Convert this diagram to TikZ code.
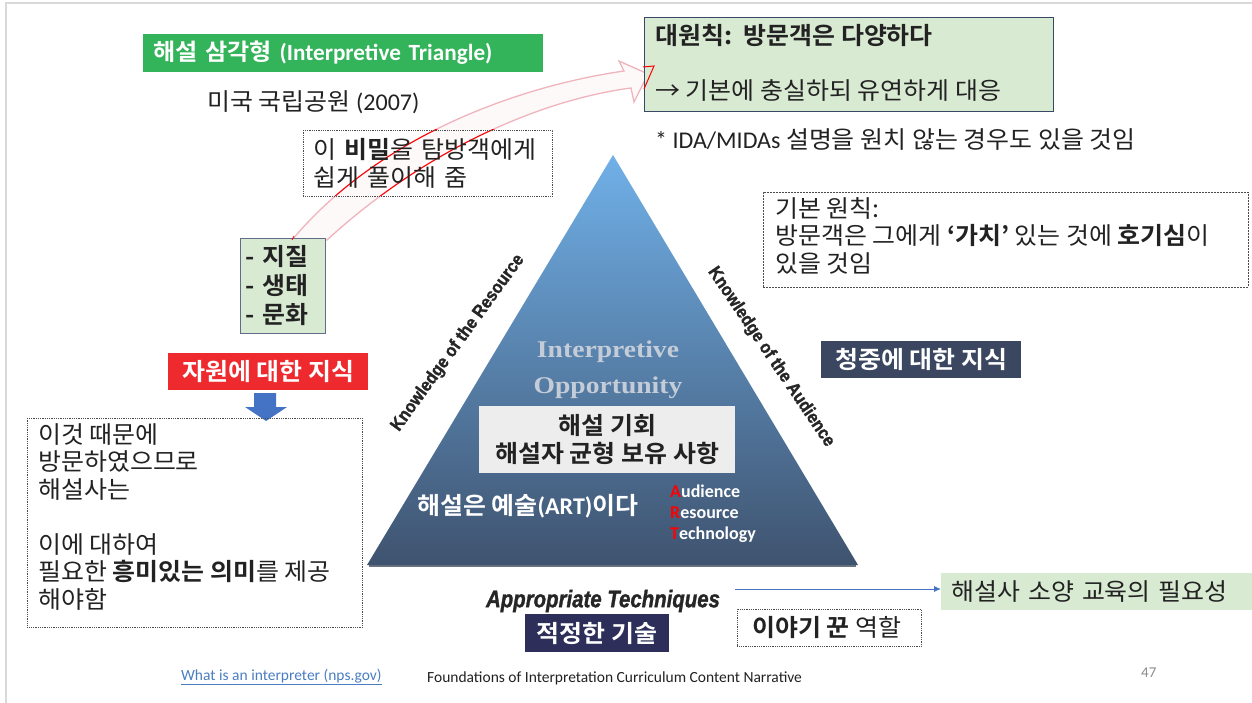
\documentclass[tikz,border=0pt]{standalone}
\usepackage{fontspec}
\setmainfont{Noto Sans CJK KR}[BoldFont={Noto Sans CJK KR Bold}, FakeStretch=1.04]
\newfontfamily\lat{Carlito}
\newfontfamily\arlheavy{Liberation Sans}[FakeBold=1.5]
\newfontfamily\srf{Liberation Serif}
\usetikzlibrary{calc,arrows.meta}
\definecolor{titlegreen}{HTML}{33B35A}
\definecolor{palegreen}{HTML}{D9EAD3}
\definecolor{boxedge}{HTML}{3A4868}
\definecolor{redbox}{HTML}{EE2A2F}
\definecolor{arrowblue}{HTML}{4472C4}
\definecolor{slate}{HTML}{3B4760}
\definecolor{navy}{HTML}{2D2E5A}
\definecolor{triTop}{HTML}{70B0E8}
\definecolor{triMid}{HTML}{5A86BC}
\definecolor{triBot}{HTML}{3F536F}
\definecolor{txt}{HTML}{222222}
\definecolor{linkblue}{HTML}{4A7EC2}
\definecolor{pinkline}{HTML}{F0B4BC}
\definecolor{framegray}{HTML}{D9D9D9}
\definecolor{ghost}{HTML}{C4CCD8}
\newcommand\fsz[2]{\fontsize{#1}{#2}\selectfont}
\begin{document}
\begin{tikzpicture}[x=1pt,y=-1pt,
  every node/.style={inner sep=0pt, text=txt},
  body/.style={font=\fsz{24}{27.5}, align=left},
  fillbox/.style={minimum height=37, font=\fsz{24}{27.5}\bfseries, text=white},
  dotbox/.style={draw=black!70, densely dotted, line width=0.8},
  dashbox/.style={draw=black!70, dashed, dash pattern=on 2pt off 1pt, line width=0.8},
  sidelabel/.style={font=\arlheavy\bfseries\fsz{18}{20}, text=black!85},
  artword/.style={font=\lat\bfseries\fsz{18}{20}, text=white, anchor=west}]
\useasboundingbox (0,0) rectangle (1252,703);
\fill[white] (0,0) rectangle (1252,703);
\draw[framegray, line width=1.5] (6,703) -- (6,3) -- (1252,3);

% ---------- triangle ----------
\shade[top color=triTop, middle color=triMid, bottom color=triBot]
  (613,155) -- (858,565) -- (367,565) -- cycle;
\draw[triBot!70!black, line width=2.5, opacity=.7] (369,566) -- (856,566);
\node[font=\srf\bfseries\fsz{24}{26}, text=ghost] (io1) at (608,352) {\scalebox{1.15}[1]{Interpretive}};
\node[font=\srf\bfseries\fsz{24}{26}, text=ghost] (io2) at (608,388) {\scalebox{1.15}[1]{Opportunity}};

% side labels
\node[sidelabel, rotate=54] (kres) at (458,343) {\scalebox{0.9}[1]{Knowledge of the Resource}};
\node[sidelabel, rotate=-56] (kaud) at (771,357) {\scalebox{0.9}[1]{Knowledge of the Audience}};
\node[font=\arlheavy\bfseries\itshape\fsz{24}{26}, text=black!85] (tech) at (603,601) {\scalebox{0.85}[1]{Appropriate Techniques}};

% inside triangle
\node[fill=black!7, minimum width=256, minimum height=67, anchor=north west,
      font=\fsz{24}{28}\bfseries, align=center] (opp) at (479,406)
      {해설 기회\\해설자 균형 보유 사항};
\node[anchor=west, font=\fsz{24}{26}\bfseries, text=white] (art) at (417,506)
      {해설은 예술{\lat(ART)}이다};
\node[artword] (aud) at (670,491) {\textcolor{red}{A}udience};
\node[artword] (res) at (670,513) {\textcolor{red}{R}esource};
\node[artword] (tec) at (670,535) {\textcolor{red}{T}echnology};

% ---------- left column ----------
\node[fill=titlegreen, minimum width=400, minimum height=38, anchor=west,
      text width=380, inner xsep=10, align=left, text=white,
      font=\fsz{23.2}{25}\bfseries] (title) at (143,53)
      {해설 삼각형 {\lat (Interpretive Triangle)}};
\node[anchor=west, font=\fsz{24}{26}] (nps) at (207,102) {미국 국립공원 {\lat (2007)}};

% curved block arrow
\path[fill=pinkline, fill opacity=.08, draw=pinkline, line width=1.3]
  (292,240) .. controls (380,135) and (520,86) .. (624,71)
  -- (619,61) -- (648,74) -- (634,102) -- (631,88)
  .. controls (540,100) and (425,150) .. (327,240) -- cycle;
\begin{scope}
\clip (303,130) rectangle (552,196);
\draw[red, line width=1]
  (292,240) .. controls (380,135) and (520,86) .. (624,71);
\draw[red, line width=1]
  (631,88) .. controls (540,100) and (425,150) .. (327,240);
\end{scope}

\node[dotbox, minimum width=249, minimum height=66,
      anchor=north west, text width=229, inner xsep=10, body] (secret) at (303,130)
      {이 \textbf{비밀}을 탐방객에게\\쉽게 풀이해 줌};

\node[fill=palegreen, draw=boxedge!80, line width=1, minimum width=85, minimum height=95,
      anchor=north west, text width=75, inner xsep=5, align=left,
      font=\fsz{24}{29}\bfseries] (geo) at (240,238)
      {- 지질\\- 생태\\- 문화};
\draw[red, line width=0.8] (292,240) -- (294,236);

\node[fill=redbox, fillbox, minimum width=200, anchor=north west] (kresbox) at (168,353) {자원에 대한 지식};
\fill[arrowblue] (254,393) -- (276,393) -- (276,407) -- (287,407) -- (266,421)
  -- (245,407) -- (254,407) -- cycle;
\node[dotbox, minimum width=335, minimum height=209, anchor=north west] (why) at (27,418) {};
\node[anchor=north west, body] (whytext) at (38,423)
  {이것 때문에\\방문하였으므로\\해설사는\\[27.5pt]이에 대하여\\필요한 \textbf{흥미있는 의미}를 제공\\해야함};

% ---------- right column ----------
\node[fill=palegreen, draw=boxedge, line width=1.2, minimum width=409, minimum height=94,
      anchor=north west] (principle) at (644,17) {};
\draw[red, line width=1] (643,67) -- (654,66) -- (644,89);
\node[anchor=west, font=\fsz{24}{26}\bfseries] (p1) at (655,36) {대원칙:\ \ 방문객은 다양하다};
\node[anchor=west, font=\fsz{24}{26}] (p2) at (655,91) {→ 기본에 충실하되 유연하게 대응};
\node[anchor=west, font=\fsz{24}{26}] (ida) at (655,140) {{\lat * IDA/MIDAs} 설명을 원치 않는 경우도 있을 것임};

\node[dashbox, minimum width=485, minimum height=95, anchor=north west] (basic) at (763,192) {};
\node[anchor=north west, body] (basictext) at (775,197)
  {기본 원칙:\\방문객은 그에게 \textbf{‘가치’} 있는 것에 \textbf{호기심}이\\있을 것임};

\node[fill=slate, fillbox, minimum width=200, anchor=north west] (kaudbox) at (821,341) {청중에 대한 지식};

% ---------- bottom ----------
\node[fill=navy, fillbox, minimum width=144, minimum height=38, anchor=north west] (techbox) at (525,614) {적정한 기술};
\node[dotbox, minimum width=184, minimum height=37, anchor=north west] (story) at (737,609) {};
\node[anchor=west, font=\fsz{24}{26}] (storytext) at (752,628) {\textbf{이야기 꾼} 역할};
\node[fill=palegreen, minimum width=306, minimum height=37, anchor=north west,
      text width=296, inner xsep=10, align=left, font=\fsz{24}{26}] (need) at (941,573)
      {해설사 소양 교육의 필요성};
\coordinate (arrstart) at (735,589);
\draw[arrowblue, line width=0.9, -{Latex[length=7pt,width=6pt]}] (arrstart) -- (need.west |- arrstart);

% footer
\node[anchor=west, font=\lat\fsz{15.5}{17}, text=linkblue] (link) at (181,677) {\underline{What is an interpreter (nps.gov)}};
\node[anchor=west, font=\lat\fsz{15.5}{17}] (found) at (427,678) {Foundations of Interpretation Curriculum Content Narrative};
\node[anchor=west, font=\lat\fsz{15}{17}, text=black!45] (pg) at (1141,673) {47};
\end{tikzpicture}
\end{document}
